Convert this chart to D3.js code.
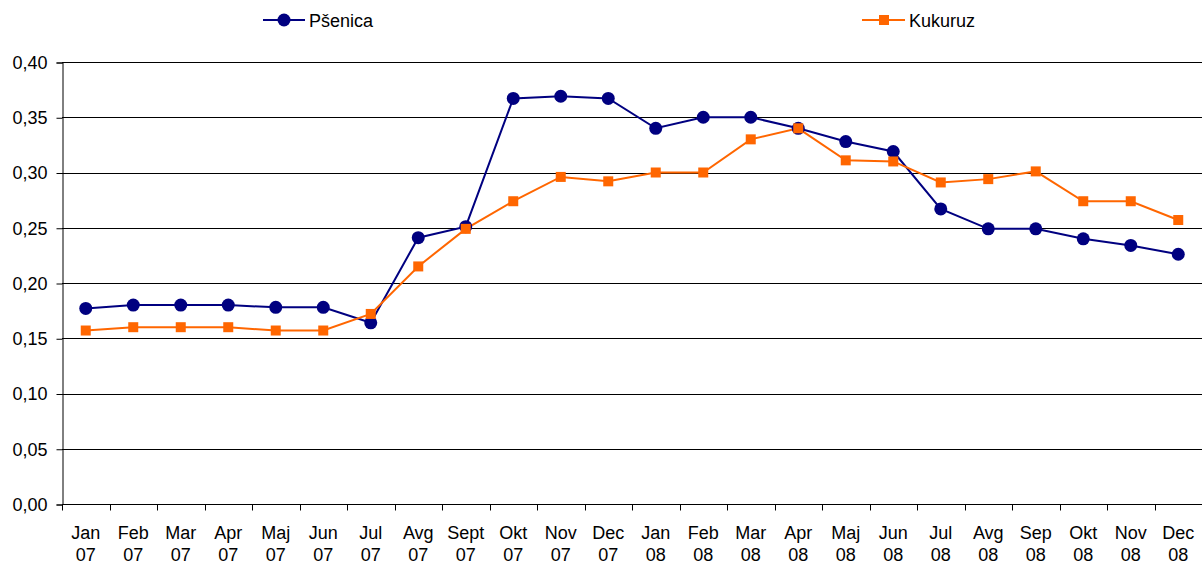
<!DOCTYPE html>
<html>
<head>
<meta charset="utf-8">
<script src="https://cdn.jsdelivr.net/npm/d3@7"></script>
<style>
  body { margin: 0; background: #fff; }
  svg { font-family: "Liberation Sans", Arial, sans-serif; }
</style>
</head>
<body>
<div id="chart"></div>
<script>
// monthly prices, wheat vs corn, 2007-2008
const months = ["Jan 07", "Feb 07", "Mar 07", "Apr 07", "Maj 07", "Jun 07", "Jul 07", "Avg 07", "Sept 07", "Okt 07", "Nov 07", "Dec 07",
                "Jan 08", "Feb 08", "Mar 08", "Apr 08", "Maj 08", "Jun 08", "Jul 08", "Avg 08", "Sep 08", "Okt 08", "Nov 08", "Dec 08"];
const psenica = [0.177, 0.180, 0.180, 0.180, 0.178, 0.178, 0.164, 0.241, 0.251, 0.367, 0.369, 0.367,
                 0.340, 0.350, 0.350, 0.340, 0.328, 0.319, 0.267, 0.249, 0.249, 0.240, 0.234, 0.226];
const kukuruz = [0.157, 0.160, 0.160, 0.160, 0.157, 0.157, 0.172, 0.215, 0.249, 0.274, 0.296, 0.292,
                 0.300, 0.300, 0.330, 0.340, 0.311, 0.310, 0.291, 0.294, 0.301, 0.274, 0.274, 0.257];
const yTicks = [0, 0.05, 0.10, 0.15, 0.20, 0.25, 0.30, 0.35, 0.40];

var width = 1203, height = 563;
var margin = {top: 62, right: 1, bottom: 59, left: 62};
var fontSize = "18px";

let svg = d3.select("#chart").append("svg")
    .attr("width", width)
    .attr("height", height);

let x = d3.scaleBand()
    .domain(months)
    .range([margin.left, width - margin.right]);

let y = d3.scaleLinear()
    .domain([0, 0.40])
    .range([height - margin.bottom, margin.top]);

let fmt = d => d.toFixed(2).replace(".", ",");

// gridlines
svg.append("g")
    .selectAll("line")
    .data(yTicks.filter(d => d > 0))
    .enter()
    .append("line")
    .attr("x1", margin.left)
    .attr("x2", width - margin.right)
    .attr("y1", d => Math.round(y(d)) + 0.5)
    .attr("y2", d => Math.round(y(d)) + 0.5)
    .attr("stroke", "#000")
    .attr("stroke-width", 1);

// y axis
let yAxis = svg.append("g")
    .attr("transform", "translate(" + (margin.left + 0.5) + ",0.5)")
    .call(d3.axisLeft(y).tickValues(yTicks).tickFormat(fmt).tickSize(6).tickPadding(9));
yAxis.attr("font-size", null).attr("font-family", null);
yAxis.select(".domain").attr("stroke", "#000");
yAxis.selectAll(".tick line").attr("stroke", "#000");
yAxis.selectAll("text").style("font-size", fontSize).attr("fill", "#000");

// x axis
let xBase = Math.round(y(0)) + 0.5;
svg.append("line")
    .attr("x1", margin.left).attr("x2", width - margin.right)
    .attr("y1", xBase).attr("y2", xBase)
    .attr("stroke", "#000");

let bounds = months.map(m => x(m));
svg.append("g")
    .selectAll("line")
    .data(bounds)
    .enter()
    .append("line")
    .attr("x1", d => Math.round(d) + 0.5)
    .attr("x2", d => Math.round(d) + 0.5)
    .attr("y1", xBase)
    .attr("y2", xBase + 6)
    .attr("stroke", "#000");

let xLabels = svg.append("g")
    .selectAll("text")
    .data(months)
    .enter()
    .append("text")
    .attr("x", d => x(d) + x.bandwidth() / 2)
    .attr("y", xBase + 34)
    .style("text-anchor", "middle")
    .style("font-size", fontSize)
    .attr("fill", "#000");
xLabels.append("tspan")
    .attr("x", d => x(d) + x.bandwidth() / 2)
    .text(d => d.split(" ")[0]);
xLabels.append("tspan")
    .attr("x", d => x(d) + x.bandwidth() / 2)
    .attr("dy", 22)
    .text(d => d.split(" ")[1]);

// lines
let cx = (d, i) => x(months[i]) + x.bandwidth() / 2;
let line = d3.line()
    .x((d, i) => cx(d, i))
    .y(d => y(d));

svg.append("path")
    .datum(psenica)
    .attr("d", line)
    .attr("fill", "none")
    .attr("stroke", "#000080")
    .attr("stroke-width", 2);

svg.append("path")
    .datum(kukuruz)
    .attr("d", line)
    .attr("fill", "none")
    .attr("stroke", "#FF6600")
    .attr("stroke-width", 2);

svg.append("g")
    .selectAll("circle")
    .data(psenica)
    .enter()
    .append("circle")
    .attr("cx", cx)
    .attr("cy", d => y(d))
    .attr("r", 6.5)
    .attr("fill", "#000080");

svg.append("g")
    .selectAll("rect")
    .data(kukuruz)
    .enter()
    .append("rect")
    .attr("x", (d, i) => cx(d, i) - 5)
    .attr("y", d => y(d) - 5)
    .attr("width", 10)
    .attr("height", 10)
    .attr("fill", "#FF6600");

// legend
let leg1 = svg.append("g").attr("transform", "translate(263,20)");
leg1.append("line").attr("x1", 0).attr("x2", 42).attr("stroke", "#000080").attr("stroke-width", 2);
leg1.append("circle").attr("cx", 21).attr("r", 6.5).attr("fill", "#000080");
leg1.append("text").attr("x", 46).attr("y", 6.5).text("Pšenica").style("font-size", fontSize);

let leg2 = svg.append("g").attr("transform", "translate(862,20)");
leg2.append("line").attr("x1", 0).attr("x2", 43).attr("stroke", "#FF6600").attr("stroke-width", 2);
leg2.append("rect").attr("x", 17).attr("y", -5).attr("width", 10).attr("height", 10).attr("fill", "#FF6600");
leg2.append("text").attr("x", 47).attr("y", 6.5).text("Kukuruz").style("font-size", fontSize);
</script>
</body>
</html>
